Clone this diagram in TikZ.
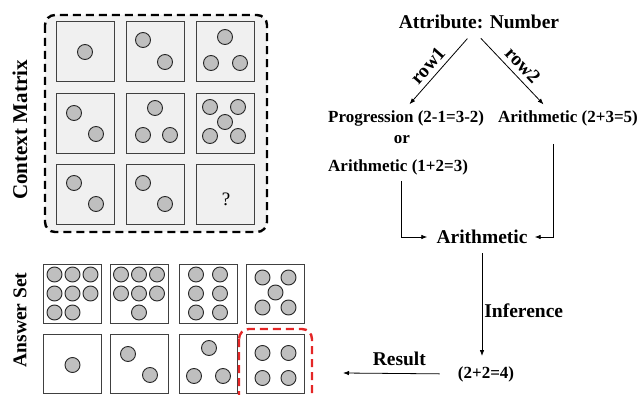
\documentclass[tikz,border=0pt]{standalone}
\usepackage{fontspec}
\setmainfont{Liberation Serif}
\usetikzlibrary{arrows.meta}
\definecolor{pickred}{RGB}{228,38,38}
\begin{document}
\begin{tikzpicture}[x=1pt,y=-1pt,
    cell/.style={draw=black!75,fill=black!6,line width=0.9pt,minimum width=58pt,minimum height=60pt,inner sep=0pt},
    ans/.style={cell,fill=white,minimum height=59pt},
    dot/.style={draw=black!85,fill=black!25,line width=0.9pt},
    big/.style={inner sep=2pt,font=\bfseries\fontsize{19.5}{22}\selectfont},
    small/.style={inner sep=2pt,font=\bfseries\fontsize{17}{20}\selectfont},
    link/.style={-{Latex[length=6pt,width=4.5pt]},line width=0.8pt}]
                \useasboundingbox (0,0) rectangle (642,395);
                \clip (0,0) rectangle (642,395);
                % context matrix
                \draw[line width=2.4pt,dash pattern=on 8pt off 5pt,rounded corners=10pt,fill=black!5] (45,15) rectangle (267,232);
                \foreach \r/\y in {1/51,2/123,3/194}
                \foreach \c/\x in {1/85,2/155,3/225}
                \node[cell] (c\r\c) at (\x,\y) {};
                \foreach \n/\dx/\dy in {c11/0/1,c12/-12/-11,c12/10/11,c13/0/-14,c13/-14/12,c13/15/12,
                    c21/-11/-10,c21/11/11,c22/0/-15,c22/-12/12,c22/15/12,
                    c23/-15/-16,c23/13/-16,c23/0/-1,c23/-15/13,c23/13/13,
                    c31/-11/-11,c31/11/10,c32/-12/-11,c32/10/10}
                \draw[dot] ([shift={(\dx,\dy)}]\n.center) circle (7.5pt);
                \node[font=\fontsize{19}{22}\selectfont] (q) at ([shift={(1,5)}]c33) {?};
                \node[big,rotate=90,font=\bfseries\fontsize{21}{24}\selectfont] (ctx) at (20,130) {Context Matrix};
                % answer set
                \foreach \r/\y in {1/293.5,2/364}
                \foreach \c/\x in {1/72.5,2/139,3/208,4/275.5}
                \node[ans] (a\r\c) at (\x,\y) {};
                \foreach \n/\dx/\dy in {a11/-18/-19,a11/0/-19,a11/18/-19,a11/-18/0,a11/0/0,a11/18/0,a11/-18/19,a11/0/19,
                    a12/-18/-19,a12/0/-19,a12/18/-19,a12/-18/0,a12/0/0,a12/18/0,a12/0/19,
                    a13/-12/-19,a13/12/-19,a13/-12/0,a13/12/0,a13/-12/19,a13/12/19,
                    a14/-13/-16,a14/13/-16,a14/0/-1,a14/-13/14,a14/13/14,
                    a21/0/1,a22/-11/-10,a22/11/11,a23/1/-16,a23/-14/12,a23/15/12,
                    a24/-13/-11,a24/13/-11,a24/-13/14,a24/13/14}
                \draw[dot] ([shift={(\dx,\dy)}]\n.center) circle (7.5pt);
                \draw[pickred,line width=2.4pt,dash pattern=on 8pt off 5pt,rounded corners=10pt] (239,329) rectangle (312,412);
                \node[big,rotate=90] (aset) at (20,320) {Answer Set};
                % reasoning
                \node[big] (attr) at (479,22) {Attribute: Number};
                \node[small,anchor=west] (prog) at (326,118) {Progression (2-1=3-2)};
                \node[small] (or) at (402,140) {or};
                \node[small,anchor=west] (arl) at (326,167) {Arithmetic (1+2=3)};
                \node[small] (arr) at (568,118) {Arithmetic (2+3=5)};
                \node[big] (mid) at (482,237) {Arithmetic};
                \node[small] (res) at (486,374) {(2+2=4)};
                \coordinate (out) at (343,373);
                \draw[link,shorten <=10pt,shorten >=5pt] ([xshift=-5pt]attr.south) -- node[big,sloped,above=3pt,pos=0.55] {row1} (prog.north);
                \draw[link,shorten <=10pt,shorten >=5pt] ([xshift=-5pt]attr.south) -- node[big,sloped,above=3pt,pos=0.55] {row2} ([xshift=-21pt]arr.north);
                \draw[link,shorten <=4pt,shorten >=7pt] ([xshift=3pt]arl.south) |- (mid.west);
                \draw[link,shorten <=16pt,shorten >=5pt] ([xshift=-15pt]arr.south) |- (mid.east);
                \draw[link,shorten <=7pt,shorten >=8pt] (mid.south) -- node[big,right,pos=0.55] {Inference} (mid.south |- res.north);
                \draw[link,shorten <=16pt] (res.west) -- node[big,above=5pt] {Result} (out);
            \end{tikzpicture}
\end{document}
